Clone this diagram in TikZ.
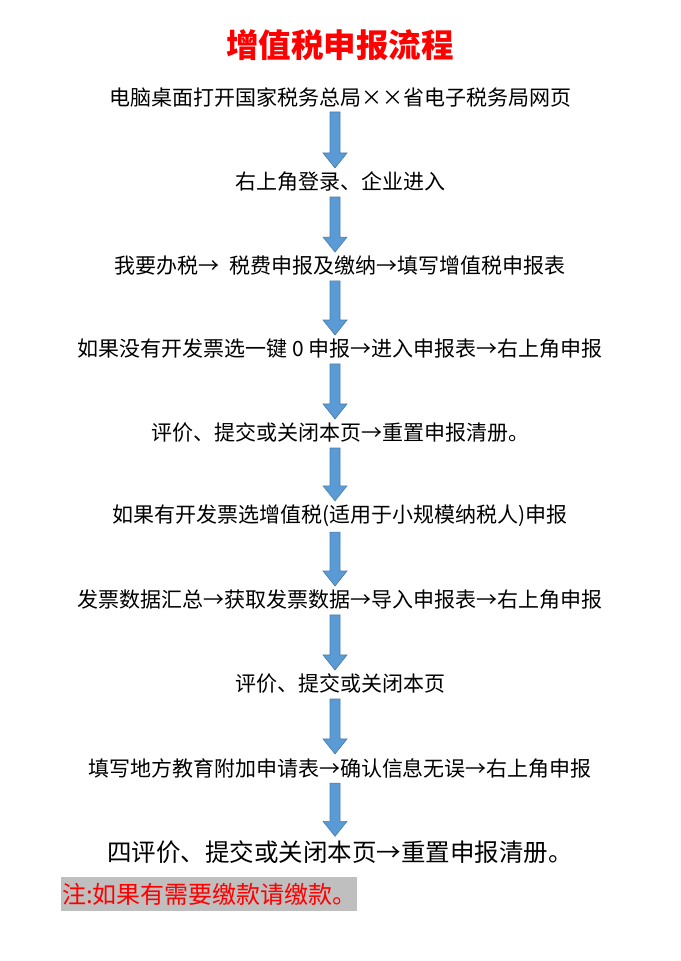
\documentclass[tikz,border=0pt]{standalone}
\usepackage{fontspec}
\setmainfont{Noto Sans CJK SC}
\definecolor{arrblue}{RGB}{91,155,213}
\definecolor{notegray}{RGB}{191,191,191}
\begin{document}
\begin{tikzpicture}[x=1pt,y=-1pt,
  stepbox/.style={font=\fontsize{21}{23}\selectfont, inner sep=0pt, anchor=center},
  flow/.style={draw=arrblue!80!black, line width=0.6pt, fill=arrblue}]
\useasboundingbox (0,0) rectangle (680,961);
\node[font=\fontsize{32.5}{35}\selectfont\bfseries, text=red] (t) at (340,45) {增值税申报流程};
\node[stepbox] (s1) at (340,97) {电脑桌面打开国家税务总局××省电子税务局网页};
\node[stepbox] (s2) at (340,182) {右上角登录、企业进入};
\node[stepbox] (s3) at (340,266) {我要办税→\ \ 税费申报及缴纳→填写增值税申报表};
\node[stepbox] (s4) at (340,349) {如果没有开发票选一键 0 申报→进入申报表→右上角申报};
\node[stepbox] (s5) at (340,433) {评价、提交或关闭本页→重置申报清册。};
\node[stepbox] (s6) at (340,516) {如果有开发票选增值税(适用于小规模纳税人)申报};
\node[stepbox] (s7) at (340,600) {发票数据汇总→获取发票数据→导入申报表→右上角申报};
\node[stepbox] (s8) at (340,684) {评价、提交或关闭本页};
\node[stepbox] (s9) at (340,768) {填写地方教育附加申请表→确认信息无误→右上角申报};
\node[stepbox, font=\fontsize{24.5}{26}\selectfont] (s10) at (340,852) {四评价、提交或关闭本页→重置申报清册。};
\fill[notegray] (61,877) rectangle (357,911);
\node[font=\fontsize{24}{26}\selectfont, text=red, anchor=west, inner sep=0pt] (n) at (62,894) {注:如果有需要缴款请缴款。};
\foreach \a/\b in {s1/s2,s2/s3,s3/s4,s4/s5,s5/s6,s6/s7,s7/s8,s8/s9,s9/s10}{
  \path[flow] ([xshift=0pt,yshift=-5pt]\a.south) -- ([xshift=0pt,yshift=19pt]\b.north)
    -- ([xshift=7pt,yshift=19pt]\b.north) -- ([xshift=-5pt,yshift=4pt]\b.north)
    -- ([xshift=-17pt,yshift=19pt]\b.north) -- ([xshift=-10pt,yshift=19pt]\b.north)
    -- ([xshift=-10pt,yshift=-5pt]\a.south) -- cycle;
}
\end{tikzpicture}
\end{document}
